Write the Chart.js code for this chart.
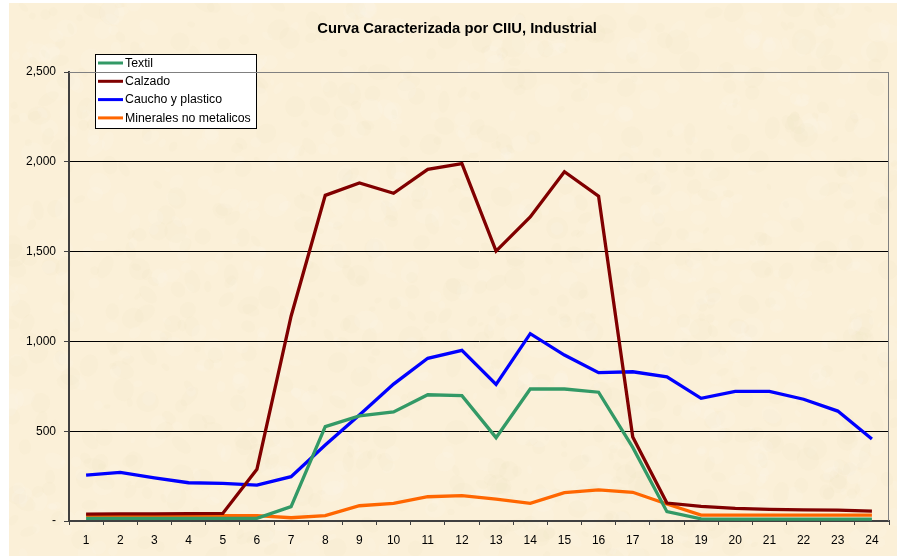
<!DOCTYPE html>
<html>
<head>
<meta charset="utf-8">
<script src="https://cdn.jsdelivr.net/npm/chart.js@4"></script>
<style>
  html, body { margin: 0; padding: 0; background: #fff; }
  #wrap { width: 897px; height: 556px; }
</style>
</head>
<body>
<div id="wrap"><canvas id="curveChart" width="897" height="556"></canvas></div>
<script>
const hours = ['1','2','3','4','5','6','7','8','9','10','11','12','13','14','15','16','17','18','19','20','21','22','23','24'];

const textil    = [15, 15, 15, 15, 15, 15, 80, 525, 585, 607, 703, 698, 464, 735, 735, 717, 410, 52, 12, 10, 10, 10, 10, 10];
const calzado   = [38, 40, 40, 41, 42, 288, 1140, 1813, 1882, 1825, 1958, 1990, 1503, 1693, 1945, 1808, 468, 100, 82, 70, 65, 62, 60, 55];
const caucho    = [256, 271, 240, 213, 210, 200, 247, 423, 590, 762, 906, 950, 761, 1043, 924, 826, 831, 803, 683, 722, 722, 678, 612, 457];
const minerales = [30, 30, 30, 30, 30, 30, 18, 30, 85, 98, 135, 141, 122, 98, 158, 173, 160, 95, 33, 33, 33, 33, 33, 33];

const yTicks = [0, 500, 1000, 1500, 2000, 2500];
const chartTitle = 'Curva Caracterizada por CIIU, Industrial';

// parchment texture, made once with a seeded generator (decoration only)
function parchment(w, h) {
    const c = document.createElement('canvas');
    c.width = w; c.height = h;
    const g = c.getContext('2d');
    g.fillStyle = '#fbf0d8';
    g.fillRect(0, 0, w, h);
    let seed = 12345;
    const rnd = () => { seed = (seed * 16807) % 2147483647; return seed / 2147483647; };
    for (let i = 0; i < 1400; i++) {
        const x = rnd() * w, y = rnd() * h, r = 3 + rnd() * 9;
        g.fillStyle = rnd() < 0.5 ? 'rgba(238,222,186,0.10)' : 'rgba(255,250,238,0.14)';
        g.beginPath();
        g.ellipse(x, y, r, r * (0.5 + rnd() * 0.6), rnd() * Math.PI, 0, Math.PI * 2);
        g.fill();
    }
    return c;
}

const bgPlugin = {
    id: 'bg',
    beforeDraw(chart) {
        const ctx = chart.ctx;
        if (!chart.$bg) chart.$bg = parchment(chart.width - 9, chart.height - 3);
        ctx.drawImage(chart.$bg, 9, 3);
        // title
        ctx.save();
        ctx.font = 'bold 14.8px "Liberation Sans", Arial, sans-serif';
        ctx.fillStyle = '#000';
        ctx.textAlign = 'center';
        ctx.textBaseline = 'alphabetic';
        ctx.fillText(chartTitle, 457, 32.7);
        ctx.restore();
    },
    afterDraw(chart) {
        const a = chart.chartArea, ctx = chart.ctx;
        ctx.save();
        ctx.strokeStyle = '#808080';
        ctx.lineWidth = 1;
        ctx.beginPath();
        ctx.moveTo(a.left, a.top + 0.5);
        ctx.lineTo(a.right - 0.5, a.top + 0.5);
        ctx.lineTo(a.right - 0.5, a.bottom);
        ctx.stroke();
        ctx.restore();
    }
};

// boxed legend sitting inside the plot
const boxLegend = {
    id: 'boxLegend',
    afterDatasetsDraw(chart) {
        const ctx = chart.ctx;
        const x = 95, y = 54, w = 161, h = 74;
        ctx.save();
        ctx.fillStyle = '#ffffff';
        ctx.fillRect(x, y, w, h);
        ctx.strokeStyle = '#000000';
        ctx.lineWidth = 1;
        ctx.strokeRect(x + 0.5, y + 0.5, w, h);
        ctx.font = '12.3px "Liberation Sans", Arial, sans-serif';
        ctx.textBaseline = 'middle';
        chart.data.datasets.forEach((ds, i) => {
            const ly = 63 + i * 18.3;
            ctx.strokeStyle = ds.borderColor;
            ctx.lineWidth = 3;
            ctx.beginPath();
            ctx.moveTo(98, ly);
            ctx.lineTo(123, ly);
            ctx.stroke();
            ctx.fillStyle = '#000';
            ctx.fillText(ds.label, 125, ly + 0.5);
        });
        ctx.restore();
    }
};

const ctx = document.getElementById('curveChart').getContext('2d');

const chart = new Chart(ctx, {
    type: 'line',
    data: {
        labels: hours,
        datasets: [
            { label: 'Textil', data: textil, borderColor: '#339966' },
            { label: 'Calzado', data: calzado, borderColor: '#800000' },
            { label: 'Caucho y plastico', data: caucho, borderColor: '#0000ff' },
            { label: 'Minerales no metalicos', data: minerales, borderColor: '#ff6600' }
        ]
    },
    options: {
        responsive: false,
        animation: false,
        layout: { padding: { left: 0, right: 8, top: 72, bottom: 0 } },
        elements: {
            line: { borderWidth: 3.3, tension: 0, borderJoinStyle: 'miter', fill: false },
            point: { radius: 0, hoverRadius: 0 }
        },
        plugins: {
            legend: { display: false },
            tooltip: { enabled: false },
            title: { display: false }
        },
        scales: {
            x: {
                offset: true,
                grid: {
                    offset: true,
                    drawOnChartArea: false,
                    tickLength: 4,
                    tickColor: '#404040'
                },
                border: { color: '#404040', width: 2 },
                ticks: {
                    color: '#000',
                    padding: 8,
                    maxRotation: 0,
                    autoSkip: false,
                    font: { family: '"Liberation Sans", Arial, sans-serif', size: 12 }
                },
                afterFit(scale) { scale.height = 35; }
            },
            y: {
                min: 0,
                max: 2500,
                afterBuildTicks(scale) { scale.ticks = yTicks.map(v => ({ value: v })); },
                grid: {
                    color: c => c.tick.value === 2500 ? '#808080' : '#000000',
                    lineWidth: 1,
                    tickLength: 5,
                    tickColor: '#404040'
                },
                border: { color: '#404040', width: 2 },
                ticks: {
                    color: '#000',
                    padding: 8,
                    font: { family: '"Liberation Sans", Arial, sans-serif', size: 12 },
                    callback: v => v === 0 ? '-' : v.toLocaleString('en-US')
                },
                afterFit(scale) { scale.width = 69; }
            }
        }
    },
    plugins: [bgPlugin, boxLegend]
});
</script>
</body>
</html>
